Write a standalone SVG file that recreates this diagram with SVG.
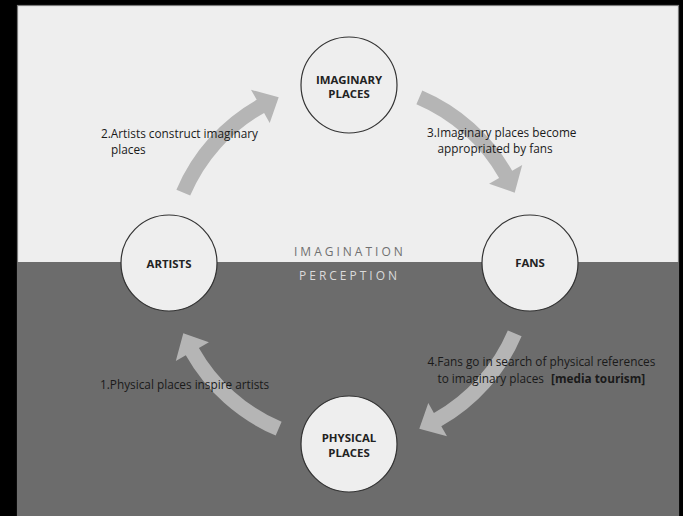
<svg xmlns="http://www.w3.org/2000/svg" width="683" height="516" viewBox="0 0 683 516">
<defs>
<style>
.lbl{font-family:"Open Sans","Liberation Sans",sans-serif;font-size:11.8px;fill:#1a1a1a}
.node circle{fill:#eeeeee;stroke:#333333;stroke-width:1.2}
.node text{font-family:"Open Sans","Liberation Sans",sans-serif;font-size:11.4px;font-weight:bold;fill:#222222;text-anchor:middle}
.arr{fill:#b5b5b5}
.zone{font-family:"Open Sans","Liberation Sans",sans-serif;font-size:12px;letter-spacing:3px}
</style>
<path id="arc" d="M 507.8 330.4 L 521.6 336.3 A 187.5 187.5 0 0 1 441.3 426.2 L 447 436.2 L 419.3 428.7 L 428.3 403.1 L 433.9 413.1 A 172.5 172.5 0 0 0 507.8 330.4 Z"/>
</defs>
<rect x="0" y="0" width="683" height="516" fill="#000000"/>
<rect x="17.5" y="5.5" width="661" height="520" fill="#eeeeee" stroke="#7a7a7a" stroke-width="1.2"/>
<rect x="17" y="262" width="662" height="254" fill="#6c6c6c"/>
<text class="zone" x="294" y="256" fill="#707070">IMAGINATION</text>
<text class="zone" x="299" y="280" fill="#dadada">PERCEPTION</text>
<g id="connectors">
<use href="#arc" class="arr"/>
<use href="#arc" class="arr" transform="rotate(90 349 263)"/>
<use href="#arc" class="arr" transform="rotate(180 349 263)"/>
<use href="#arc" class="arr" transform="rotate(270 349 263)"/>
</g>
<g id="labels">
<text class="lbl" x="101" y="138">2.Artists construct imaginary</text>
<text class="lbl" x="111" y="154">places</text>
<text class="lbl" x="427" y="137">3.Imaginary places become</text>
<text class="lbl" x="437.5" y="153">appropriated by fans</text>
<text class="lbl" x="427.5" y="366">4.Fans go in search of physical references</text>
<text class="lbl" x="437.5" y="383">to imaginary places <tspan dx="4" font-weight="bold">[media tourism]</tspan></text>
<text class="lbl" x="100" y="389">1.Physical places inspire artists</text>
</g>
<g id="imaginary-places" class="node">
<circle cx="349" cy="85" r="48"/>
<text x="349" y="83.5">IMAGINARY</text>
<text x="349" y="97.5">PLACES</text>
</g>
<g id="artists" class="node">
<circle cx="169" cy="263" r="48"/>
<text x="169" y="268">ARTISTS</text>
</g>
<g id="fans" class="node">
<circle cx="530" cy="263" r="48"/>
<text x="530" y="267">FANS</text>
</g>
<g id="physical-places" class="node">
<circle cx="349" cy="444" r="48"/>
<text x="349" y="442">PHYSICAL</text>
<text x="349" y="456.5">PLACES</text>
</g>
</svg>
